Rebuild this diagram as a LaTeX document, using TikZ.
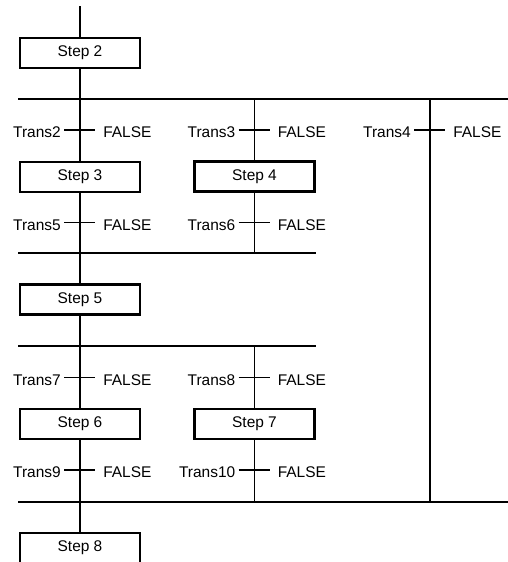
\documentclass[tikz,border=0pt]{standalone}
\usepackage{fontspec}
\setmainfont{Liberation Sans}
\begin{document}
\begin{tikzpicture}[x=0.75pt,y=-0.75pt,
  stepbox/.style={draw=black,line width=2pt,minimum width=90pt,minimum height=22.5pt,inner sep=0pt,fill=white,font=\fontsize{11.6}{13}\selectfont},
  conn/.style={line width=1.4pt},
  lbl/.style={inner sep=0pt,font=\fontsize{11.6}{13}\selectfont,text height=8.3pt,text depth=0pt}
]
\useasboundingbox (0,0) rectangle (508,562);
% steps
\node[stepbox] (s2) at (80,53) {Step 2};
\node[stepbox] (s3) at (80,177) {Step 3};
\node[stepbox] (s4) at (254.5,176.5) {Step 4};
\node[stepbox] (s5) at (80,299.5) {Step 5};
\node[stepbox] (s6) at (80,424) {Step 6};
\node[stepbox] (s7) at (254.5,424) {Step 7};
\node[stepbox] (s8) at (80,548) {Step 8};
% coordinates
\coordinate (top) at (80,6);
\coordinate (d1L) at (18,99);  \coordinate (d1R) at (508,99);
\coordinate (d1a) at (80,99);  \coordinate (d1b) at (254.5,99); \coordinate (d1c) at (430,99);
\coordinate (c1L) at (18,253); \coordinate (c1R) at (316,253);
\coordinate (c1a) at (80,253); \coordinate (c1b) at (254.5,253);
\coordinate (d2L) at (18,346); \coordinate (d2R) at (316,346);
\coordinate (d2a) at (80,346); \coordinate (d2b) at (254.5,346);
\coordinate (c2L) at (18,502); \coordinate (c2R) at (508,502);
\coordinate (c2a) at (80,502); \coordinate (c2b) at (254.5,502); \coordinate (c2c) at (430,502);
% transitions
\coordinate (t2) at (80,130);
\coordinate (t3) at (254.5,130);
\coordinate (t4) at (430,130);
\coordinate (t5) at (80,222.5);
\coordinate (t6) at (254.5,222.5);
\coordinate (t7) at (80,377.5);
\coordinate (t8) at (254.5,377.5);
\coordinate (t9) at (80,470);
\coordinate (t10) at (254.5,470);
% vertical connectors
\draw[conn] (top) -- (s2.north);
\draw[conn] (s2.south) -- (d1a);
\draw[conn] (d1a) -- (s3.north);
\draw[conn] (d1b) -- (s4.north);
\draw[conn] (d1c) -- (c2c);
\draw[conn] (s3.south) -- (c1a);
\draw[conn] (s4.south) -- (c1b);
\draw[conn] (c1a) -- (s5.north);
\draw[conn] (s5.south) -- (d2a);
\draw[conn] (d2a) -- (s6.north);
\draw[conn] (d2b) -- (s7.north);
\draw[conn] (s6.south) -- (c2a);
\draw[conn] (s7.south) -- (c2b);
\draw[conn] (c2a) -- (s8.north);
% horizontal bars
\draw[conn] (d1L) -- (d1R);
\draw[conn] (c1L) -- (c1R);
\draw[conn] (d2L) -- (d2R);
\draw[conn] (c2L) -- (c2R);
% ticks and labels
\foreach \t/\n in {t2/Trans2,t3/Trans3,t4/Trans4,t5/Trans5,t6/Trans6,t7/Trans7,t8/Trans8,t9/Trans9,t10/Trans10}{
  \draw[conn] ([xshift=-16*0.75pt]\t) -- ([xshift=15*0.75pt]\t);
  \node[lbl,anchor=east] (\t L) at ([xshift=-19*0.75pt,yshift=-2.2*0.75pt]\t) {\n};
  \node[lbl,anchor=west] (\t R) at ([xshift=23*0.75pt,yshift=-2.2*0.75pt]\t) {FALSE};
}
\end{tikzpicture}
\end{document}
